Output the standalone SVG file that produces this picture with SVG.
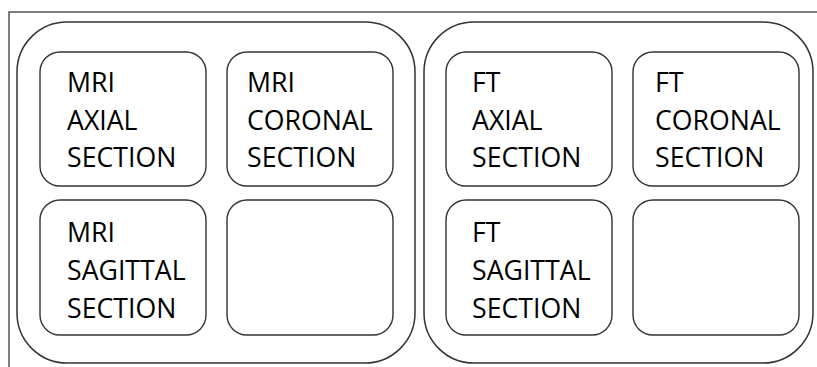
<svg xmlns="http://www.w3.org/2000/svg" width="817" height="367" viewBox="0 0 817 367">
  <style>
    .frame { fill: none; stroke: #555; stroke-width: 1.5; }
    .group { fill: #fff; stroke: #333; stroke-width: 1.5; }
    .cell { fill: #fff; stroke: #333; stroke-width: 1.4; }
    .label { font-family: "Open Sans", "Noto Sans", "Liberation Sans", sans-serif; font-size: 26.7px; fill: #000; }
  </style>
  <rect width="817" height="367" fill="#fff"/>
  <!-- outer frame: top and left edges only -->
  <path class="frame" d="M9 367 V12 H817"/>

  <g id="mri-group">
    <rect class="group" x="17" y="22" width="398" height="341" rx="50" ry="50"/>
    <g id="mri-axial">
      <rect class="cell" x="40" y="52" width="166" height="134" rx="20" ry="20"/>
      <text class="label" x="67" y="92">MRI</text>
      <text class="label" x="67" y="129.5">AXIAL</text>
      <text class="label" x="67" y="167">SECTION</text>
    </g>
    <g id="mri-coronal">
      <rect class="cell" x="227" y="52" width="166" height="134" rx="20" ry="20"/>
      <text class="label" x="247" y="92">MRI</text>
      <text class="label" x="247" y="129.5">CORONAL</text>
      <text class="label" x="247" y="167">SECTION</text>
    </g>
    <g id="mri-sagittal">
      <rect class="cell" x="40" y="200" width="166" height="135" rx="20" ry="20"/>
      <text class="label" x="67" y="241.5">MRI</text>
      <text class="label" x="67" y="279.5">SAGITTAL</text>
      <text class="label" x="67" y="317.5">SECTION</text>
    </g>
    <g id="mri-empty">
      <rect class="cell" x="227" y="200" width="166" height="135" rx="20" ry="20"/>
    </g>
  </g>

  <g id="ft-group">
    <rect class="group" x="424" y="22" width="389" height="341" rx="50" ry="50"/>
    <g id="ft-axial">
      <rect class="cell" x="446" y="52" width="166" height="134" rx="20" ry="20"/>
      <text class="label" x="472" y="92">FT</text>
      <text class="label" x="472" y="129.5">AXIAL</text>
      <text class="label" x="472" y="167">SECTION</text>
    </g>
    <g id="ft-coronal">
      <rect class="cell" x="633" y="52" width="166" height="134" rx="20" ry="20"/>
      <text class="label" x="655" y="92">FT</text>
      <text class="label" x="655" y="129.5">CORONAL</text>
      <text class="label" x="655" y="167">SECTION</text>
    </g>
    <g id="ft-sagittal">
      <rect class="cell" x="446" y="200" width="166" height="135" rx="20" ry="20"/>
      <text class="label" x="472" y="241.5">FT</text>
      <text class="label" x="472" y="279.5">SAGITTAL</text>
      <text class="label" x="472" y="317.5">SECTION</text>
    </g>
    <g id="ft-empty">
      <rect class="cell" x="633" y="200" width="166" height="135" rx="20" ry="20"/>
    </g>
  </g>

  <g id="connectors"/>
</svg>
